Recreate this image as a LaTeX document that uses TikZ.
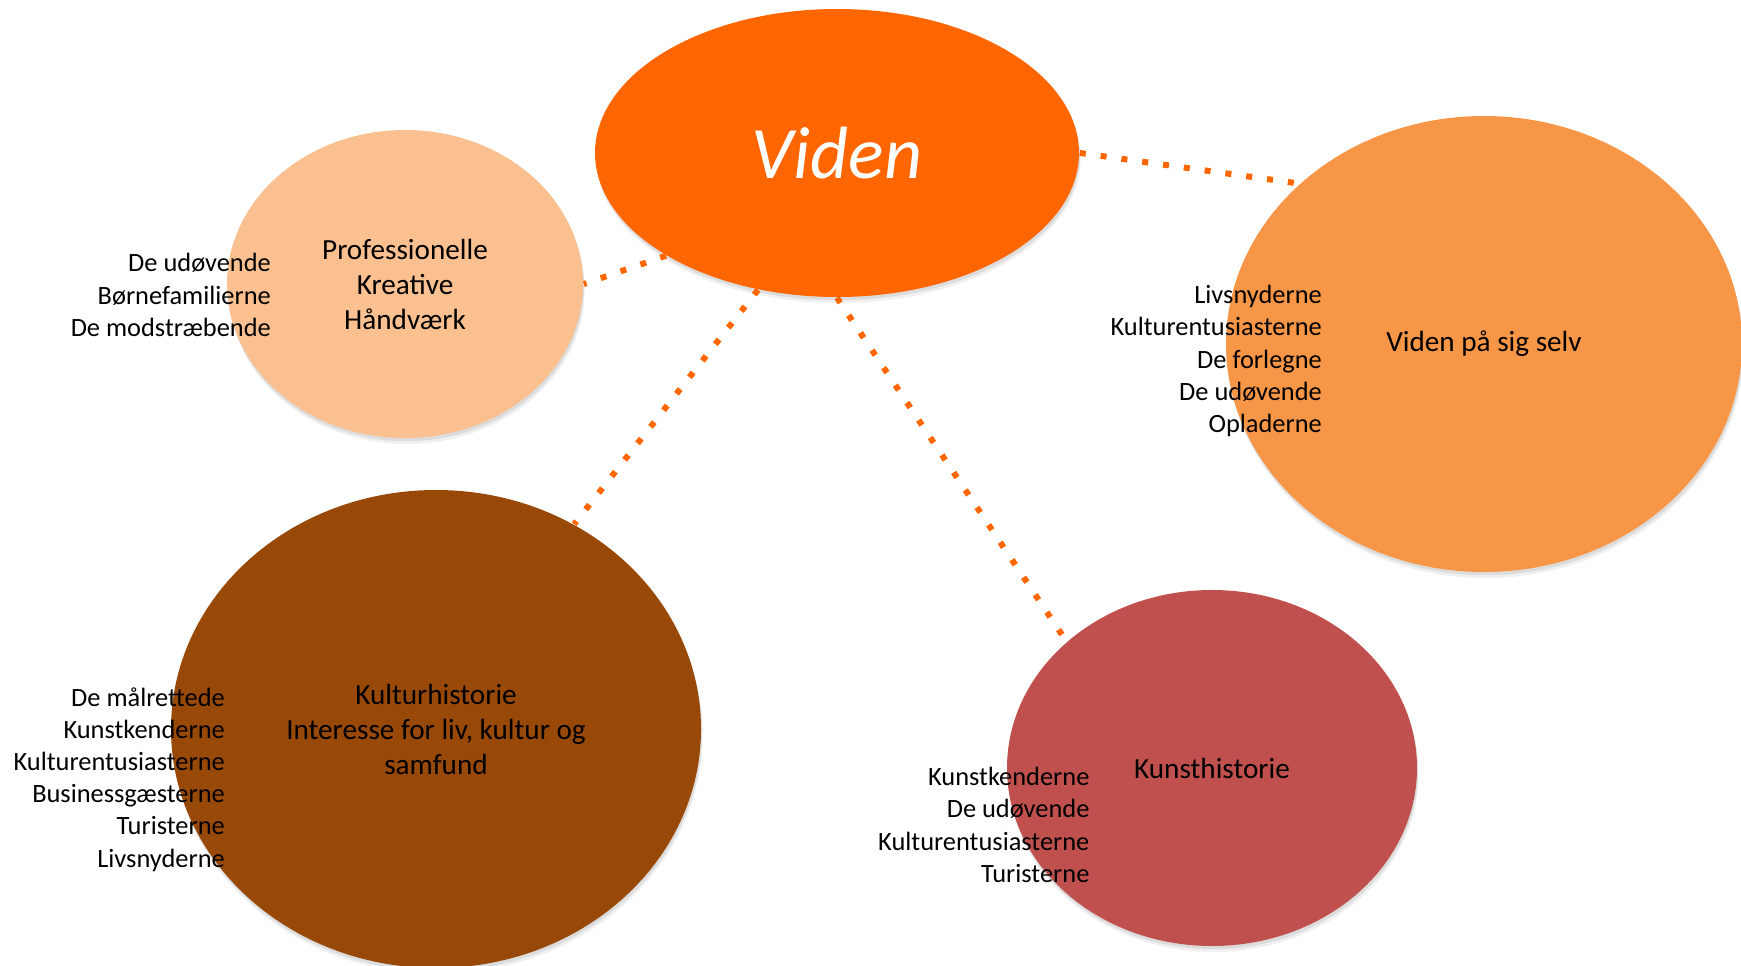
\documentclass[tikz,border=0pt]{standalone}
\usepackage{fontspec}
\setmainfont{Carlito}
\usepackage{tikz}
\usetikzlibrary{arrows}
\usetikzlibrary{shapes.geometric, shadows}

\definecolor{videnorange}{HTML}{FF6600}
\definecolor{profpeach}{HTML}{FAC08F}
\definecolor{selvorange}{HTML}{F79646}
\definecolor{kulturbrown}{HTML}{984807}
\definecolor{kunstred}{HTML}{C0504D}

\begin{document}
\begin{tikzpicture}[x=0.5pt, y=-0.5pt, node distance=100pt, thick]
      \tikzstyle{main node} = [ellipse, inner sep=0pt, align=center, font=\fontsize{14.6}{17.5}\selectfont,
         drop shadow={opacity=0.12, shadow xshift=0.8pt, shadow yshift=-3pt},
         drop shadow={opacity=0.18, shadow xshift=0.5pt, shadow yshift=-1.6pt}]
      \tikzstyle{group list} = [align=right, anchor=east, inner sep=0pt, font=\fontsize{13.2}{16.1}\selectfont]
      \tikzstyle{line} = [draw=videnorange, line width=3pt, dash pattern=on 3pt off 7.5pt]
      \useasboundingbox (0,0) rectangle (1741,965);
      %nodes
      \node[main node, fill=videnorange, minimum width=242pt, minimum height=144pt, text=white,
         font=\itshape\fontsize{37}{44}\selectfont]  (viden)  at (837,153)  {Viden};
      \node[main node, fill=profpeach, minimum width=178pt, minimum height=154pt]
         (prof)   [left of=viden, xshift=-116pt, yshift=-65.5pt]   {Professionelle\\Kreative\\Håndværk};
      \node[main node, fill=selvorange, minimum width=258pt, minimum height=228pt]
         (selv)   [right of=viden, xshift=223.5pt, yshift=-95.5pt] {Viden på sig selv};
      \node[main node, fill=kulturbrown, minimum width=265pt, minimum height=239pt]
         (kultur) [below of=viden, xshift=-200.5pt, yshift=-188pt] {Kulturhistorie\\Interesse for liv, kultur og\\samfund};
      \node[main node, fill=kunstred, minimum width=205pt, minimum height=178pt]
         (kunst)  [below of=viden, xshift=187.5pt, yshift=-207.5pt] {Kunsthistorie};

      %lists
      \node[group list] (proflist)   at ([xshift=22.7pt, yshift=-5.5pt]prof.west)     {De udøvende\\Børnefamilierne\\De modstræbende};
      \node[group list] (selvlist)   at ([xshift=48.7pt, yshift=-8.5pt]selv.west)   {Livsnyderne\\Kulturentusiasterne\\De forlegne\\De udøvende\\Opladerne};
      \node[group list] (kulturlist) at ([xshift=27.7pt, yshift=-25.2pt]kultur.west) {De målrettede\\Kunstkenderne\\Kulturentusiasterne\\Businessgæsterne\\Turisterne\\Livsnyderne};
      \node[group list] (kunstlist)  at ([xshift=42pt, yshift=-28.5pt]kunst.west)   {Kunstkenderne\\De udøvende\\Kulturentusiasterne\\Turisterne};

      %lines
      \draw [line] (viden.211) -- (prof.0);
      \draw [line] (viden.0)   -- (selv.139);
      \draw [line] (viden.240) -- (kultur.56);
      \draw [line] (viden.270) -- (kunst.139);
    \end{tikzpicture}
\end{document}
